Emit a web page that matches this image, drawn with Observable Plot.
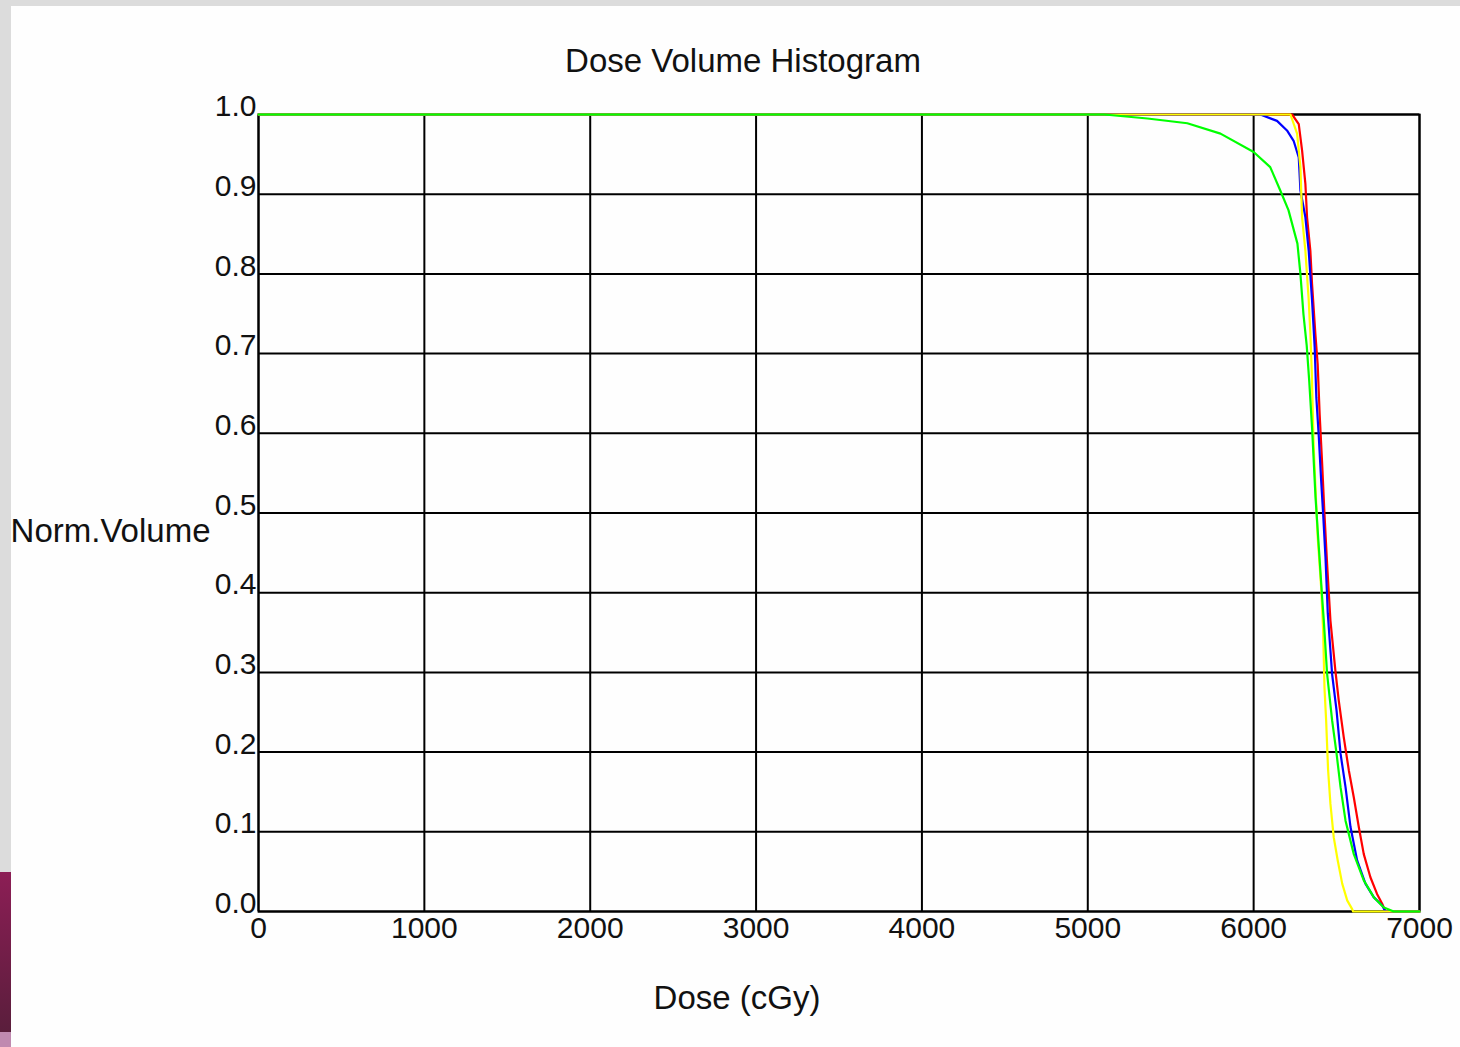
<!DOCTYPE html>
<html>
<head>
<meta charset="utf-8">
<script src="https://cdn.jsdelivr.net/npm/d3@7"></script>
<script src="https://cdn.jsdelivr.net/npm/@observablehq/plot@0.6"></script>
<style>
  html, body { margin: 0; padding: 0; }
  body { width: 1460px; height: 1047px; background: #dcdcdc; position: relative; overflow: hidden; font-family: "Liberation Sans", Arial, sans-serif; }
  #panel { position: absolute; left: 11px; top: 6px; width: 1449px; height: 1041px; background: #fefefe; }
  #deco { position: absolute; left: 0; top: 872px; width: 11px; height: 160px; background: linear-gradient(#8c1e55, #5a1e3c); }
  #deco2 { position: absolute; left: 0; top: 1032px; width: 11px; height: 15px; background: #c08ab0; }
  #title { position: absolute; left: 0; top: 42px; width: 1486px; text-align: center; font-size: 33px; color: #111; }
  #chart { position: absolute; left: 11px; top: 80px; }
</style>
</head>
<body>
<div id="panel"></div>
<div id="deco"></div>
<div id="deco2"></div>
<div id="title">Dose Volume Histogram</div>
<div id="chart"></div>
<script>
const xTicks = [0, 1000, 2000, 3000, 4000, 5000, 6000, 7000];
const yTicks = [0, 0.1, 0.2, 0.3, 0.4, 0.5, 0.6, 0.7, 0.8, 0.9, 1.0];

const redDose   = [0, 6232, 6272, 6292, 6312, 6322, 6342, 6352, 6372, 6386, 6398, 6413, 6427, 6443, 6463, 6493, 6513, 6543, 6574, 6604, 6634, 6664, 6704, 6744, 6775, 6795, 7000];
const redVolume = [1, 1, 0.988, 0.955, 0.913, 0.871, 0.829, 0.788, 0.725, 0.687, 0.624, 0.562, 0.499, 0.436, 0.365, 0.302, 0.265, 0.219, 0.177, 0.143, 0.106, 0.072, 0.043, 0.022, 0.0097, 0, 0];

const blueDose   = [0, 6040, 6141, 6201, 6241, 6272, 6282, 6312, 6332, 6352, 6368, 6378, 6393, 6407, 6419, 6433, 6447, 6473, 6500, 6524, 6554, 6584, 6624, 6674, 6724, 6775, 6795, 7000];
const blueVolume = [1, 1, 0.992, 0.98, 0.967, 0.946, 0.905, 0.871, 0.829, 0.767, 0.708, 0.645, 0.595, 0.541, 0.499, 0.445, 0.374, 0.298, 0.252, 0.198, 0.156, 0.106, 0.064, 0.035, 0.018, 0.0075, 0, 0];

const yellowDose   = [0, 6222, 6262, 6282, 6292, 6312, 6332, 6342, 6350, 6362, 6386, 6407, 6419, 6427, 6437, 6449, 6463, 6483, 6507, 6534, 6564, 6594, 6600, 7000];
const yellowVolume = [1, 1, 0.976, 0.934, 0.871, 0.829, 0.767, 0.725, 0.68, 0.583, 0.47, 0.407, 0.353, 0.281, 0.24, 0.177, 0.135, 0.093, 0.064, 0.035, 0.014, 0.003, 0, 0];

const greenDose   = [0, 5100, 5360, 5600, 5800, 6000, 6100, 6160, 6210, 6264, 6282, 6300, 6320, 6335, 6353, 6373, 6393, 6413, 6423, 6443, 6473, 6500, 6524, 6554, 6604, 6664, 6724, 6785, 6845, 7000];
const greenVolume = [1, 1, 0.995, 0.989, 0.976, 0.953, 0.934, 0.905, 0.88, 0.838, 0.80, 0.75, 0.71, 0.666, 0.604, 0.52, 0.457, 0.394, 0.365, 0.298, 0.24, 0.198, 0.156, 0.114, 0.072, 0.039, 0.018, 0.005, 0, 0];

const seriesNames  = ["Series 1", "Series 2", "Series 3", "Series 4"];
const seriesColors = ["#ff0000", "#0000ff", "#ffff00", "#00ff00"];
const seriesDoses  = [redDose, blueDose, yellowDose, greenDose];
const seriesVols   = [redVolume, blueVolume, yellowVolume, greenVolume];

const rows = [];
seriesNames.forEach((name, i) => {
  seriesDoses[i].forEach((d, j) => rows.push({series: name, dose: d, volume: seriesVols[i][j]}));
});

const chart = Plot.plot({
  width: 1449,
  height: 950,
  marginLeft: 247,
  marginRight: 41,
  marginTop: 34,
  marginBottom: 119,
  style: { fontFamily: "'Liberation Sans', Arial, sans-serif", fontSize: "30px", color: "#111", background: "transparent", overflow: "visible" },
  x: { domain: [0, 7000] },
  y: { domain: [0, 1] },
  color: { type: "ordinal", domain: seriesNames, range: seriesColors },
  marks: [
    Plot.gridX(xTicks, { stroke: "#000", strokeOpacity: 1, strokeWidth: 2 }),
    Plot.gridY(yTicks, { stroke: "#000", strokeOpacity: 1, strokeWidth: 2 }),
    Plot.frame({ stroke: "#000", strokeWidth: 2 }),
    Plot.axisX(xTicks, { tickSize: 0, tickPadding: 5, tickFormat: d => String(d), fontSize: 30, label: null }),
    Plot.axisY(yTicks, { tickSize: 0, tickPadding: 2, dy: -8, tickFormat: d3.format(".1f"), fontSize: 30, label: null }),
    Plot.line(rows, { x: "dose", y: "volume", z: "series", stroke: "series", strokeWidth: 2.2 }),
    Plot.text(["Norm.Volume"], { frameAnchor: "left", textAnchor: "end", dx: -48, dy: 18, fontSize: 33, fill: "#111" }),
    Plot.text(["Dose (cGy)"], { frameAnchor: "bottom", dx: -102, dy: 97, fontSize: 33, fill: "#111" })
  ]
});
document.getElementById("chart").appendChild(chart);
</script>
</body>
</html>
